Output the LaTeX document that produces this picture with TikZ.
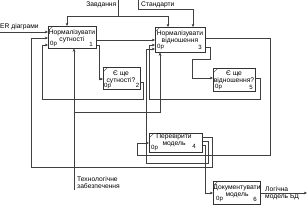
\documentclass[tikz,border=0pt]{standalone}
\usepackage{fontspec}
\setmainfont{Liberation Sans}
\usetikzlibrary{arrows.meta}
\begin{document}
\begin{tikzpicture}[x=1pt,y=-1pt,
  box/.style={draw=black!80, line width=0.55pt, anchor=north west, inner sep=0pt, fill=white},
  ln/.style={draw=black!75, line width=0.5pt},
  arr/.style={ln, -{Stealth[length=3.2pt,width=2.8pt]}},
  txt/.style={font=\fontsize{6.7}{6.9}\selectfont, inner sep=0pt, align=center},
  ltxt/.style={font=\fontsize{6.7}{7.4}\selectfont, inner sep=0pt, align=left},
  small/.style={font=\fontsize{6.1}{6.2}\selectfont, inner sep=0pt},
  cornermark/.style={draw=black!80, line width=0.4pt}]
\useasboundingbox[fill=white] (0,0) rectangle (307,205);

% boxes
\node[box, minimum width=48pt, minimum height=22pt] (b1) at (48,26) {};
\node[box, minimum width=37pt, minimum height=22pt] (b2) at (103,67) {};
\node[box, minimum width=50pt, minimum height=25pt] (b3) at (155,27) {};
\node[box, minimum width=42pt, minimum height=23pt] (b4) at (213,68) {};
\node[box, minimum width=53pt, minimum height=19pt] (b5) at (149,133) {};
\node[box, minimum width=47pt, minimum height=23pt] (b6) at (213,181) {};

% corner marks
\foreach \b in {b1,b2,b3,b4,b5,b6}{
  \draw[cornermark] ([xshift=0.6pt,yshift=-4.5pt]\b.north west) -- ([xshift=4.5pt,yshift=-0.6pt]\b.north west);
}

% box texts
\node[txt] (t1) at (72,36) {Нормалізувати\\сутності};
\node[small, anchor=west] (c1) at (50,44.5) {0р};
\node[small, anchor=east] (n1) at (93,44.5) {1};

\node[txt] (t2) at (121,77.5) {Є ще\\сутності?};
\node[small, anchor=west] (c2) at (104,86.5) {0р};
\node[small, anchor=east] (n2) at (139.5,85.5) {2};

\node[txt] (t3) at (180,37) {Нормалізувати\\відношення};
\node[small, anchor=west] (c3) at (157,47.5) {0р};
\node[small, anchor=east] (n3) at (202,47.5) {3};

\node[txt] (t4) at (234,77.5) {Є ще\\відношення?};
\node[small, anchor=west] (c4) at (215,87.5) {0р};
\node[small, anchor=east] (n4) at (253,87.5) {5};

\node[txt] (t5) at (174,140.5) {Перевірити\\модель};
\node[small, anchor=west] (c5) at (151,148) {0р};
\node[small, anchor=east] (n5) at (196,146.5) {4};

\node[txt] (t6) at (237,191) {Документувати\\модель};
\node[small, anchor=west] (c6) at (216,199.5) {0р};
\node[small, anchor=east] (n6) at (257,199.5) {6};

% outside labels
\node[txt, anchor=east] (lz) at (116.5,5) {Завдання};
\node[txt, anchor=west] (ls) at (141,4.5) {Стандарти};
\node[txt, anchor=west] (le) at (0,27) {ER діаграми};
\node[ltxt, anchor=north west] (lm) at (77,176.5) {Технологічне\\забезпечення};
\node[ltxt, anchor=west] (lo) at (265,193) {Логічна\\модель БД};

% free ends
\coordinate (zav) at (118,0);
\coordinate (std) at (138,0);
\coordinate (er) at (0,32);
\coordinate (mech) at (74,190);
\coordinate (out) at (307,193);

% controls
\draw[ln] (zav) -- (118,16);
\draw[arr] (118,16) -- (67,16) -- (b1.north -| 67,0);
\draw[arr] (118,16) -- (168,16) -- (b3.north -| 168,0);
\draw[arr] (std) -- (138,9) -- (193,9) -- (b3.north -| 193,0);

% input
\draw[arr] (er) -- (b1.west |- 0,32);

% mechanism
\draw[arr] (mech) -- (b1.south -| 74,0);
\draw[arr] (74,112) -- (160,112) -- (b3.south -| 160,0);

% b1 outputs
\draw[arr] (b1.east |- 0,40) -- (b3.west |- 0,40);
\draw[arr] (b1.east |- 0,45) -- (99,45) -- (99,79) -- (b2.west |- 0,79);

% b2 feedback
\draw[arr] (b2.east |- 0,82) -- (143,82) -- (143,99) -- (42,99) -- (42,45) -- (b1.west |- 0,45);

% b3 outputs
\draw[arr] (b3.east |- 0,38) -- (270,38) -- (270,155) -- (137,155) -- (137,143) -- (b5.west |- 0,143);
\draw[arr] (b3.east |- 0,47) -- (210,47) -- (210,59) -- (192,59) -- (192,78) -- (b4.west |- 0,78);

% b4 feedback
\draw[arr] (b4.east |- 0,78) -- (260,78) -- (260,99) -- (149,99) -- (149,45) -- (b3.west |- 0,45);

% b5 outputs
\draw[arr] (b5.east |- 0,137) -- (212,137) -- (212,167) -- (31,167) -- (31,38) -- (b1.west |- 0,38);
\draw[arr] (b5.east |- 0,141) -- (208,141) -- (208,163) -- (146,163) -- (146,49) -- (b3.west |- 0,49);
\draw[arr] (b5.east |- 0,145) -- (205,145) -- (205,193) -- (b6.west |- 0,193);

% b6 output
\draw[arr] (b6.east |- 0,193) -- (out);
\end{tikzpicture}
\end{document}
